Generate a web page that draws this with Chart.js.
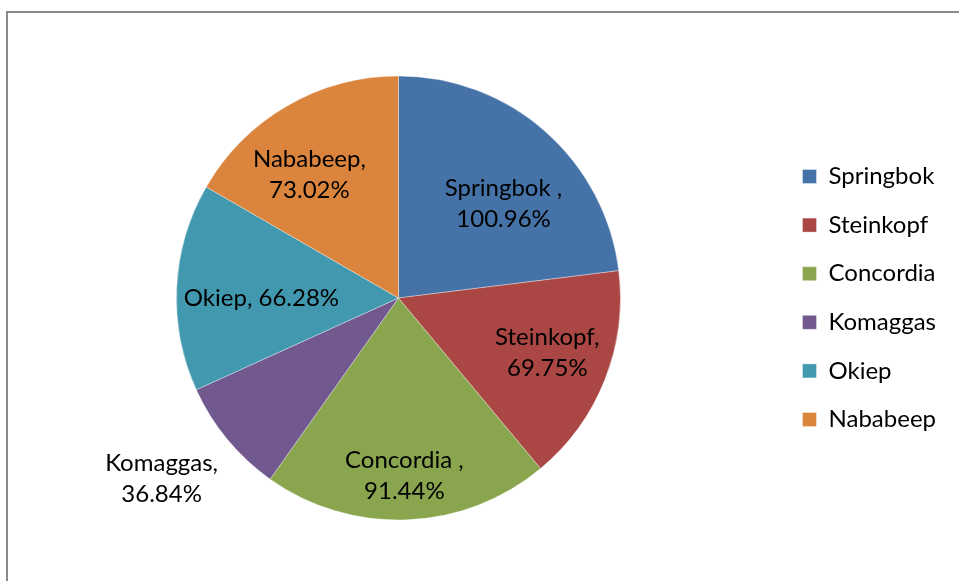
<!DOCTYPE html>
<html>
<head>
<meta charset="utf-8">
<script src="https://cdn.jsdelivr.net/npm/chart.js@4/dist/chart.umd.min.js"></script>
<style>
  html, body { margin: 0; padding: 0; background: #fff; }
  #wrap { position: relative; width: 959px; height: 581px; overflow: hidden; }
  #frame {
    position: absolute; left: 6px; top: 11px; width: 1000px; height: 600px;
    border-left: 2px solid #8a8a8a; border-top: 2px solid #8a8a8a;
  }
  #chart { position: absolute; left: 0; top: 0; }
</style>
</head>
<body>
<div id="wrap">
  <div id="frame"></div>
  <canvas id="chart" width="959" height="581"></canvas>
</div>
<script>
// towns and their percentages
const towns = ['Springbok', 'Steinkopf', 'Concordia', 'Komaggas', 'Okiep', 'Nababeep'];
const percents = [100.96, 69.75, 91.44, 36.84, 66.28, 73.02];
const sliceColors = ['#4572A7', '#AA4643', '#89A54E', '#71588F', '#4198AF', '#DB843D'];

// label text lines for each slice
const labelLines = [
  ['Springbok ,', '100.96%'],
  ['Steinkopf,', '69.75%'],
  ['Concordia ,', '91.44%'],
  ['Komaggas,', '36.84%'],
  ['Okiep, 66.28%'],
  ['Nababeep,', '73.02%']
];

const FONT = 'Lato, "Open Sans", sans-serif';

// draws the slice labels around the pie (angle in degrees clockwise from top, distance as share of radius)
const sliceLabels = {
  id: 'sliceLabels',
  afterDatasetsDraw(chart, args, opts) {
    const ctx = chart.ctx;
    const arcs = chart.getDatasetMeta(0).data;
    ctx.save();
    ctx.font = opts.size + 'px ' + FONT;
    ctx.fillStyle = '#000';
    ctx.textAlign = 'center';
    ctx.textBaseline = 'middle';
    arcs.forEach((arc, i) => {
      const ang = opts.angles[i] * Math.PI / 180;
      const d = opts.dist[i] * arc.outerRadius;
      const x = arc.x + d * Math.sin(ang);
      const y = arc.y - d * Math.cos(ang);
      const lines = labelLines[i];
      const top = y - (lines.length - 1) * opts.lineHeight / 2;
      lines.forEach((t, j) => ctx.fillText(t, x, top + j * opts.lineHeight));
    });
    ctx.restore();
  }
};

new Chart(document.getElementById('chart'), {
  type: 'pie',
  data: {
    labels: towns,
    datasets: [{
      data: percents,
      backgroundColor: sliceColors,
      borderColor: 'rgba(255,255,255,0.35)',
      borderWidth: 1
    }]
  },
  options: {
    responsive: false,
    animation: false,
    radius: 222,
    layout: { padding: { left: 19, right: 13, top: 15, bottom: 0 } },
    plugins: {
      tooltip: { enabled: false },
      legend: {
        position: 'right',
        labels: {
          boxWidth: 14,
          boxHeight: 14,
          padding: 24.6,
          color: '#000',
          font: { family: FONT, size: 24 }
        }
      },
      sliceLabels: {
        size: 24,
        lineHeight: 31,
        angles: [48.2, 110.3, 178.1, 232.6, 270, 324.1],
        dist: [0.635, 0.715, 0.802, 1.343, 0.617, 0.684]
      }
    }
  },
  plugins: [sliceLabels]
});
</script>
</body>
</html>
